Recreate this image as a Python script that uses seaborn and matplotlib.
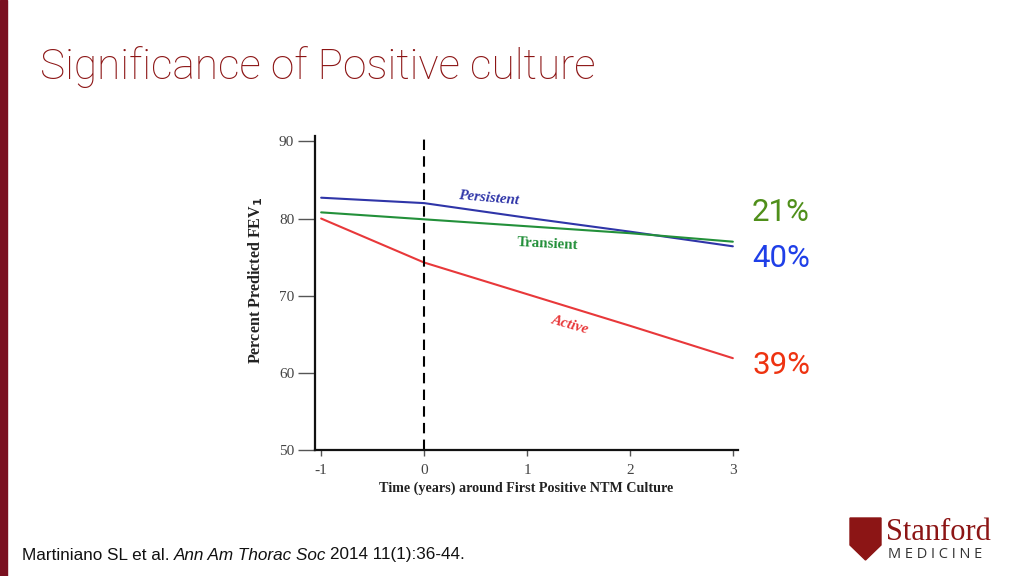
import numpy as np
import pandas as pd
import matplotlib
matplotlib.use('Agg')
import matplotlib.pyplot as plt
from matplotlib.patches import Polygon, Rectangle
import seaborn as sns

# values
years = [-1, 0, 1, 2, 3]
persistent = [82.7, 82.0, 80.1, 78.3, 76.4]
transient = [80.8, 79.9, 79.0, 78.1, 77.0]
active = [80.0, 74.3, 70.2, 66.1, 61.9]
groups = ['Persistent', 'Transient', 'Active']
line_colors = ['#2f35a8', '#23903a', '#e8383a']
pct_labels = ['21%', '40%', '39%']
pct_colors = ['#4f8f1a', '#1f3fe8', '#ee3311']

df = pd.DataFrame({
    'year': years * 3,
    'fev': persistent + transient + active,
    'group': np.repeat(groups, len(years)),
})

sns.set_style('white')
plt.rcParams['font.family'] = ['Liberation Serif', 'DejaVu Serif']

fig = plt.figure(figsize=(10.24, 5.76), dpi=100)
ax = fig.add_axes([0.3076, 0.2188, 0.4131, 0.5451])

sns.lineplot(data=df, x='year', y='fev', hue='group', hue_order=groups,
             palette=line_colors, linewidth=1.5, legend=False, ax=ax)
ax.axvline(0, color='black', linestyle=(0, (5, 3)), linewidth=1.5)

ax.set_xlim(-1.06, 3.05)
ax.set_ylim(50, 90.7)
ax.set_xticks(years)
ax.set_xticklabels(['-1', '0', '1', '2', '3'])
ax.set_yticks([50, 60, 70, 80, 90])
ax.tick_params(axis='y', direction='out', length=12, width=1, color='#555',
               labelsize=11, labelcolor='#444', pad=3, left=True)
ax.tick_params(axis='x', direction='out', length=4, width=1, color='#555',
               labelsize=11, labelcolor='#444', pad=6, bottom=True)
for s in ['top', 'right']:
    ax.spines[s].set_visible(False)
for s in ['left', 'bottom']:
    ax.spines[s].set_color('#111')
    ax.spines[s].set_linewidth(1.6)

ax.set_xlabel('Time (years) around First Positive NTM Culture', fontsize=10.2,
              fontweight='bold', color='#222', labelpad=3)
ax.set_ylabel('Percent Predicted FEV$_\\mathbf{1}$', fontsize=11.5,
              fontweight='bold', color='#222')
ax.yaxis.set_label_coords(-0.118, 0.54)

ax.text(0.63, 82.6, 'Persistent', color=line_colors[0], fontsize=10.8,
        fontweight='bold', fontstyle='italic', rotation=-5, ha='center', va='center')
ax.text(1.2, 76.7, 'Transient', color=line_colors[1], fontsize=10.8,
        fontweight='bold', rotation=-3, ha='center', va='center')
ax.text(1.42, 66.2, 'Active', color=line_colors[2], fontsize=10.8,
        fontweight='bold', fontstyle='italic', rotation=-16, ha='center', va='center')

# slide decorations
fig.patches.append(Rectangle((0, 0), 7 / 1024, 1, transform=fig.transFigure,
                             color='#7a1020', zorder=0))
fig.text(40 / 1024, 1 - 67 / 576, 'Significance of Positive culture',
         family=['Roboto', 'DejaVu Sans'], fontweight='light', fontsize=30.5,
         color='#8c1515', va='center', ha='left')

for lab, col, yp in zip(pct_labels, pct_colors, [212.5, 258.5, 366]):
    fig.text(752 / 1024, 1 - yp / 576, lab, family=['Roboto', 'DejaVu Sans'],
             fontweight='normal', fontsize=22.5, color=col, va='center', ha='left')

cite_y = 1 - 555 / 576
t1 = fig.text(22 / 1024, cite_y, 'Martiniano SL et al. ', family=['Liberation Sans'],
              fontsize=12.3, color='#111', va='center', ha='left')
fig.canvas.draw()
r = fig.canvas.get_renderer()
bb = t1.get_window_extent(r)
t2 = fig.text(bb.x1 / 1024, cite_y, 'Ann Am Thorac Soc', family=['Liberation Sans'],
              fontsize=12.3, fontstyle='italic', color='#111', va='center', ha='left')
bb2 = t2.get_window_extent(r)
fig.text(bb2.x1 / 1024 + 0.003, cite_y, '2014 11(1):36-44.', family=['Liberation Sans'],
         fontsize=12.3, color='#111', va='center', ha='left')

# logo
shield = [(850, 518), (881, 518), (881, 545), (865.5, 560), (850, 545)]
fig.patches.append(Polygon([(x / 1024, 1 - y / 576) for x, y in shield],
                           closed=True, transform=fig.transFigure,
                           color='#8c1515', zorder=1))
fig.text(886 / 1024, 1 - 532 / 576, 'Stanford', family=['Liberation Serif'],
         fontsize=22, color='#8c1515', va='center', ha='left')
fig.text(888 / 1024, 1 - 554 / 576, 'M E D I C I N E', family=['Open Sans', 'DejaVu Sans'],
         fontsize=10.5, color='#333', va='center', ha='left')

fig.savefig('out.png', dpi=100, facecolor='white')
